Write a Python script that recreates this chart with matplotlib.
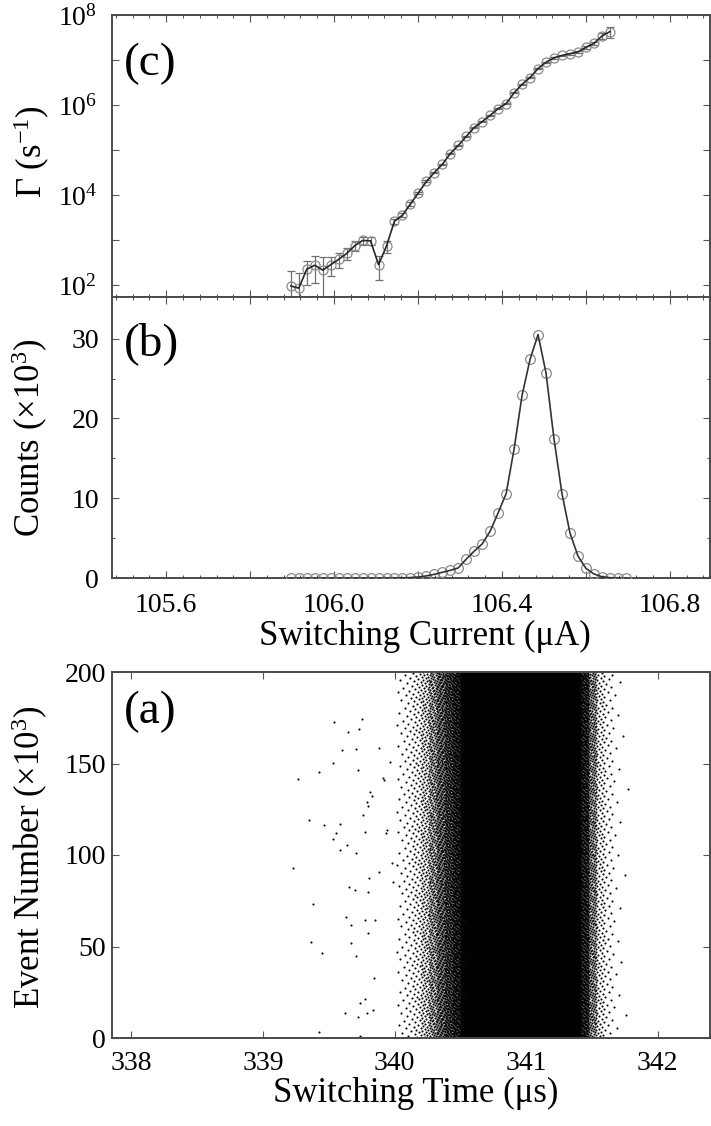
import numpy as np
import matplotlib
matplotlib.use("Agg")
import matplotlib.pyplot as plt
from matplotlib.ticker import FixedLocator, FuncFormatter, NullLocator

# ---------------------------------------------------------------- data
# switching-current bins (uA), shared by the histogram and the rate
current = [105.897, 105.916, 105.935, 105.954, 105.973, 105.992, 106.011,
           106.030, 106.049, 106.068, 106.087, 106.106, 106.125, 106.144,
           106.163, 106.182, 106.201, 106.220, 106.239, 106.258, 106.277,
           106.296, 106.315, 106.334, 106.353, 106.372, 106.391, 106.410,
           106.429, 106.448, 106.467, 106.486, 106.505, 106.524, 106.543,
           106.562, 106.581, 106.600, 106.619, 106.638, 106.657, 106.676,
           106.695]

# switching events per current bin
counts = [2, 1, 3, 4, 3, 4, 5, 7, 10, 14, 14, 4, 10, 36, 50, 90, 160, 300,
          500, 750, 1000, 1300, 2400, 3400, 4300, 5900, 8200, 10600, 16200,
          22900, 27400, 30500, 25700, 17450, 10600, 5700, 2800, 1250, 550,
          200, 80, 20, 5]

# escape rate (1/s) for the first 41 bins and its relative uncertainty
gamma = [95, 85, 224, 275, 214, 282, 372, 501, 741, 977, 955, 282, 741,
         2630, 3550, 6310, 1.12e4, 2.0e4, 3.16e4, 4.79e4, 8.32e4, 1.26e5,
         2.0e5, 3.16e5, 4.27e5, 5.89e5, 8.32e5, 1.07e6, 1.86e6, 2.88e6,
         4.07e6, 6.46e6, 8.91e6, 1.12e7, 1.26e7, 1.38e7, 1.51e7, 1.91e7,
         2.34e7, 3.39e7, 4.27e7]
gamma_rel_err = [1.1, 1.2, 0.55, 0.6, 1.0, 0.45, 0.35, 0.3, 0.25, 0.2, 0.2,
                 0.55, 0.3, 0.12, 0.1, 0.08, 0.06, 0.05, 0.04, 0.04, 0.03,
                 0.03, 0.03, 0.03, 0.03, 0.03, 0.03, 0.03, 0.03, 0.03, 0.03,
                 0.03, 0.03, 0.04, 0.05, 0.06, 0.07, 0.08, 0.10, 0.15, 0.28]

# isolated early switching events (time in us, event number in 10^3)
early_time = [339.542, 339.750, 339.649, 339.730, 339.601, 339.707, 339.885,
              339.530, 339.423, 339.720, 339.266, 339.814, 339.826, 339.793,
              339.801, 339.758, 339.352, 339.464, 339.586, 339.553, 339.778,
              339.530, 339.636, 339.583, 339.707, 339.226, 339.885, 339.806,
              339.651, 339.702, 339.796, 339.383, 339.631, 339.667, 339.778,
              339.849, 339.801, 339.365, 339.669, 339.451, 339.707, 339.847,
              339.776, 339.738, 339.621, 339.720, 339.788, 339.839, 339.423,
              339.738, 339.920, 339.940, 339.935, 339.966, 339.915, 339.978,
              339.991]
early_event = [172.8, 174.3, 167.0, 168.6, 157.2, 157.9, 158.6, 150.1, 145.1,
               146.4, 141.7, 134.6, 132.4, 129.1, 127.0, 121.8, 119.1, 116.4,
               116.9, 112.2, 112.7, 108.5, 105.4, 102.7, 101.3, 93.1, 90.9,
               87.2, 82.3, 80.8, 79.9, 73.0, 65.9, 61.7, 64.5, 64.5, 57.5,
               52.6, 52.1, 46.2, 44.8, 32.9, 21.1, 19.3, 13.8, 11.6, 13.5,
               15.3, 3.1, 1.3, 141.0, 113.6, 111.8, 151.0, 141.9, 95.4, 85.4]

# current ramp: switching time = t_ref + (I - i_ref) * ramp
t_ref, i_ref, ramp = 341.08, 106.486, 3.2   # us, uA, us/uA
bin_width = 0.019                            # uA
first_dense_bin = 14
total_events = 200.0                          # 10^3

# ---------------------------------------------------------------- style
plt.rcParams['font.family'] = ['Liberation Serif', 'DejaVu Serif']
plt.rcParams['mathtext.fontset'] = 'custom'
plt.rcParams['mathtext.rm'] = 'Liberation Serif'
plt.rcParams['mathtext.it'] = 'Liberation Serif:italic'
plt.rcParams['mathtext.bf'] = 'Liberation Serif:bold'

W, H = 711, 1126
fig = plt.figure(figsize=(W / 100, H / 100), dpi=100)


def px_axes(left, top, right, bottom):
    return fig.add_axes([left / W, 1 - bottom / H,
                         (right - left) / W, (bottom - top) / H])


ax_c = px_axes(111.6, 15, 709.7, 297)
ax_b = px_axes(111.6, 297, 709.7, 578.3)
ax_a = px_axes(111.6, 672, 709.7, 1038)

TICK_FS = 20
LABEL_FS = 25
PANEL_FS = 34
SPINE = '#4a4a4a'

for ax in (ax_a, ax_b, ax_c):
    for s in ax.spines.values():
        s.set_linewidth(1.4)
        s.set_color(SPINE)
    ax.tick_params(which='both', direction='in', top=True, right=True,
                   color='#555555', width=0.8, labelsize=TICK_FS)
    ax.tick_params(which='major', length=5)
    ax.tick_params(which='minor', length=2.5)

# ---------------------------------------------------------------- (c)
I = np.array(current)
g = np.array(gamma)
gerr = g * np.array(gamma_rel_err)
Ic = I[:len(g)]
ax_c.errorbar(Ic, g, yerr=gerr, fmt='none', ecolor='#707070',
              elinewidth=0.9, capsize=3, capthick=0.9, zorder=2)
ax_c.plot(Ic, g, 'o', ms=6.5, mfc='none', mec='#8a8a8a', mew=0.9, zorder=3)
ax_c.plot(Ic, g, '-', color='#262626', lw=1.2, zorder=4)
ax_c.set_yscale('log')
ax_c.set_ylim(10 ** 1.733, 1e8)
ax_c.yaxis.set_major_locator(FixedLocator([10.0 ** e for e in range(2, 9)]))
ax_c.yaxis.set_minor_locator(NullLocator())


def log_fmt(v, pos):
    e = int(round(np.log10(v)))
    return r'$10^{%d}$' % e if e % 2 == 0 else ''


ax_c.yaxis.set_major_formatter(FuncFormatter(log_fmt))
ax_c.tick_params(axis='y', pad=10.5)

# ---------------------------------------------------------------- (b)
cnt = np.array(counts) / 1000.0
ax_b.plot(I, cnt, 'o', ms=7, mfc='none', mec='#8a8a8a', mew=0.9, zorder=3)
ax_b.plot(I, cnt, '-', color='#333333', lw=1.2, zorder=4)
ax_b.set_ylim(0, 35.2)
ax_b.yaxis.set_major_locator(FixedLocator([0, 10, 20, 30]))
ax_b.yaxis.set_minor_locator(FixedLocator([5, 15, 25]))
ax_b.tick_params(axis='y', pad=9)
ax_b.tick_params(axis='x', pad=10.5)

for ax in (ax_b, ax_c):
    ax.set_xlim(105.47, 106.895)
    ax.xaxis.set_major_locator(FixedLocator(
        [105.6, 105.8, 106.0, 106.2, 106.4, 106.6, 106.8]))
    ax.xaxis.set_minor_locator(FixedLocator(
        [105.48 + 0.04 * i for i in range(36)]))


def cur_fmt(v, pos):
    return '%.1f' % v if int(round(v * 10)) % 4 == 0 else ''


ax_b.xaxis.set_major_formatter(FuncFormatter(cur_fmt))
ax_c.tick_params(axis='x', labelbottom=False)

# ---------------------------------------------------------------- (a)
# events of each current bin are laid out along the ramp in time and spread
# evenly over the record with a golden-ratio stride
dense = np.array(counts[first_dense_bin:], dtype=int)
centers_t = t_ref + (I[first_dense_bin:] - i_ref) * ramp
width_t = bin_width * ramp
cum = np.concatenate([[0], np.cumsum(dense)])
j = np.arange(cum[-1])
q = j + 0.5
idx = np.searchsorted(cum, q, side='right') - 1
frac = (q - cum[idx]) / dense[idx]
t_events = centers_t[idx] - width_t / 2 + frac * width_t
n_events = ((j * 0.6180339887498949) % 1.0) * total_events

ax_a.plot(t_events, n_events, 'o', ms=1.5, mew=0, color='black',
          rasterized=True)
ax_a.plot(early_time, early_event, 'o', ms=1.5, mew=0, color='black')
ax_a.set_xlim(337.849, 342.396)
ax_a.set_ylim(0, 200)
ax_a.xaxis.set_major_locator(FixedLocator([338, 339, 340, 341, 342]))
ax_a.yaxis.set_major_locator(FixedLocator([0, 50, 100, 150, 200]))
ax_a.xaxis.set_minor_locator(NullLocator())
ax_a.yaxis.set_minor_locator(NullLocator())
ax_a.tick_params(axis='y', pad=4)
ax_a.tick_params(axis='x', pad=9.5)

# ---------------------------------------------------------------- labels
def ftext(x, y, s, **kw):
    fig.text(x / W, 1 - y / H, s, **kw)


ftext(32, 152, r'Γ (s$^{-1}$)', rotation=90, ha='center', va='center',
      fontsize=LABEL_FS)
ftext(29.5, 437.5, r'Counts ($\times$10$^{3}$)', rotation=90, ha='center',
      va='center', fontsize=LABEL_FS)
ftext(29.5, 857, r'Event Number ($\times$10$^{3}$)', rotation=90,
      ha='center', va='center', fontsize=LABEL_FS)
ftext(425, 636, 'Switching Current (μA)', ha='center', va='center',
      fontsize=LABEL_FS)
ftext(416, 1093, 'Switching Time (μs)', ha='center', va='center',
      fontsize=LABEL_FS)

ftext(124, 75, '(c)', ha='left', va='baseline', fontsize=PANEL_FS)
ftext(124, 355, '(b)', ha='left', va='baseline', fontsize=PANEL_FS)
ftext(124, 723, '(a)', ha='left', va='baseline', fontsize=PANEL_FS)

fig.savefig('out.png', dpi=100)
